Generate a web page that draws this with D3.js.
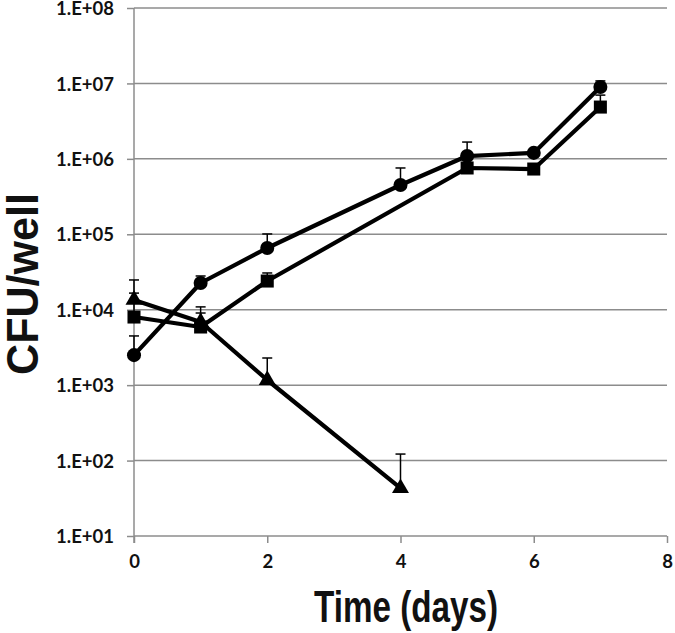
<!DOCTYPE html>
<html>
<head>
<meta charset="utf-8">
<script src="https://cdn.jsdelivr.net/npm/d3@7"></script>
<style>
html,body{margin:0;padding:0;background:#fff;}
svg{display:block;}
</style>
</head>
<body>
<svg id="chart" width="675" height="633"></svg>
<script>
// ---- data ----
const yTickValues = [1e1, 1e2, 1e3, 1e4, 1e5, 1e6, 1e7, 1e8];
const yTickLabels = ["1.E+01", "1.E+02", "1.E+03", "1.E+04", "1.E+05", "1.E+06", "1.E+07", "1.E+08"];
const xTickValues = [0, 2, 4, 6, 8];

const circleDays = [0, 1, 2, 4, 5, 6, 7];
const circleValues = [2500, 22600, 65800, 450000, 1090000, 1200000, 8970000];
const circleErrTop = [4490, 28000, 101000, 757000, 1670000, 1300000, 10800000];

const squareDays = [0, 1, 2, 5, 6, 7];
const squareValues = [8000, 5900, 24000, 757000, 733000, 4860000];
const squareErrTop = [16600, 9040, 30700, 800000, 760000, 7000000];

const triangleDays = [0, 1, 2, 4];
const triangleValues = [13500, 6870, 1170, 43];
const triangleErrTop = [24800, 10900, 2290, 122];

const xTitle = "Time (days)";
const yTitle = "CFU/well";

// ---- layout ----
(function () {
const svg = d3.select("#chart");
const mLeft = 134, mRight = 667, mTop = 8, mBottom = 536;
const x = d3.scaleLinear().domain([0, 8]).range([mLeft, mRight]);
const y = d3.scaleLog().domain([1e1, 1e8]).range([mBottom, mTop]);
const grey = "#8c8c8c";

// gridlines
svg.append("g").selectAll("line").data(yTickValues.slice(1)).join("line")
  .attr("x1", mLeft).attr("x2", mRight)
  .attr("y1", d => y(d)).attr("y2", d => y(d))
  .attr("stroke", grey).attr("stroke-width", 1.5);

// y axis
const yAxis = d3.axisLeft(y).tickValues(yTickValues)
  .tickFormat((d, i) => yTickLabels[i]).tickSize(7).tickPadding(13);
const gy = svg.append("g").attr("transform", `translate(${mLeft},0)`).call(yAxis);
gy.select(".domain").attr("stroke", grey).attr("stroke-width", 1.5)
  .attr("d", `M0,${mTop}V${mBottom + 7}`);
gy.selectAll(".tick line").attr("stroke", grey).attr("stroke-width", 1.5);
gy.selectAll(".tick text").attr("font-family", "Lato, 'Open Sans', sans-serif")
  .attr("font-weight", 700).attr("font-size", 18.5).attr("fill", "#111")
  .attr("dy", "0.36em");

// x axis
const xAxis = d3.axisBottom(x).tickValues(xTickValues).tickFormat(d3.format("d"))
  .tickSize(7).tickPadding(12);
const gx = svg.append("g").attr("transform", `translate(0,${mBottom})`).call(xAxis);
gx.select(".domain").attr("stroke", grey).attr("stroke-width", 1.5)
  .attr("d", `M${mLeft},0H${mRight}`);
gx.selectAll(".tick line").attr("stroke", grey).attr("stroke-width", 1.5);
gx.selectAll(".tick text").attr("font-family", "Lato, 'Open Sans', sans-serif")
  .attr("font-weight", 700).attr("font-size", 18.5).attr("fill", "#111");

// axis titles
svg.append("text").attr("x", 406).attr("y", 622)
  .attr("text-anchor", "middle")
  .attr("font-family", "'Liberation Sans', Arial, sans-serif").attr("font-weight", 700)
  .attr("font-size", 44).attr("textLength", 184).attr("lengthAdjust", "spacingAndGlyphs")
  .attr("fill", "#111").text(xTitle);

svg.append("text").attr("transform", "translate(38,284) rotate(-90)")
  .attr("text-anchor", "middle")
  .attr("font-family", "'Liberation Sans', Arial, sans-serif").attr("font-weight", 700)
  .attr("font-size", 44).attr("textLength", 182).attr("lengthAdjust", "spacingAndGlyphs")
  .attr("fill", "#111").text(yTitle);

// series
const series = [
  {days: triangleDays, vals: triangleValues, err: triangleErrTop, sym: d3.symbolTriangle, size: 125},
  {days: squareDays, vals: squareValues, err: squareErrTop, sym: d3.symbolSquare, size: 170},
  {days: circleDays, vals: circleValues, err: circleErrTop, sym: d3.symbolCircle, size: 155}
];

const line = d3.line().x(d => x(d[0])).y(d => y(d[1]));
const gS = svg.append("g");
series.forEach(s => {
  const pts = s.days.map((d, i) => [d, s.vals[i], s.err[i]]);
  gS.append("path").datum(pts).attr("d", line)
    .attr("fill", "none").attr("stroke", "#000").attr("stroke-width", 4.2)
    .attr("stroke-linejoin", "round");
});
series.forEach(s => {
  const pts = s.days.map((d, i) => [d, s.vals[i], s.err[i]]);
  const g = gS.append("g");
  g.selectAll("line.err").data(pts).join("line")
    .attr("x1", d => x(d[0])).attr("x2", d => x(d[0]))
    .attr("y1", d => y(d[1])).attr("y2", d => y(d[2]))
    .attr("stroke", "#000").attr("stroke-width", 1.5);
  g.selectAll("line.cap").data(pts).join("line")
    .attr("x1", d => x(d[0]) - 5).attr("x2", d => x(d[0]) + 5)
    .attr("y1", d => y(d[2])).attr("y2", d => y(d[2]))
    .attr("stroke", "#000").attr("stroke-width", 1.5);
  g.selectAll("path.m").data(pts).join("path")
    .attr("transform", d => `translate(${x(d[0])},${y(d[1])})`)
    .attr("d", d3.symbol().type(s.sym).size(s.size)).attr("fill", "#000");
});
})();
</script>
</body>
</html>
